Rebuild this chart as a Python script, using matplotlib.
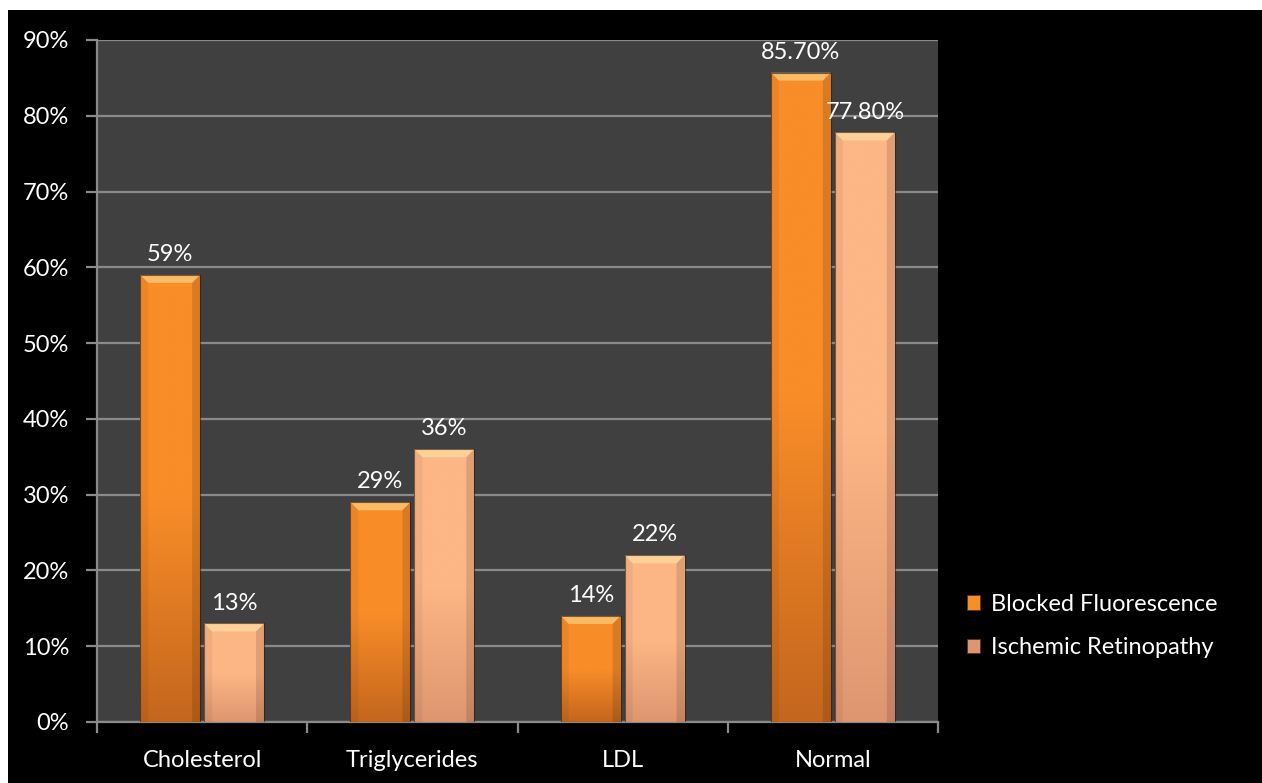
import numpy as np
import matplotlib.pyplot as plt
from matplotlib.patches import Rectangle, Polygon
from matplotlib.colors import LinearSegmentedColormap

plt.rcParams['font.family'] = ['Lato', 'DejaVu Sans']

categories = ['Cholesterol', 'Triglycerides', 'LDL', 'Normal']
blocked = [59, 29, 14, 85.7]
ischemic = [13, 36, 22, 77.8]
blocked_labels = ['59%', '29%', '14%', '85.70%']
ischemic_labels = ['13%', '36%', '22%', '77.80%']
series_names = ['Blocked Fluorescence', 'Ischemic Retinopathy']

# top / bottom colours for each series gradient
grad_blocked = ('#F98D28', '#C4661E')
grad_ischemic = ('#FDB685', '#DE9670')

FS = 17

fig = plt.figure(figsize=(12.62, 7.83), dpi=100, facecolor='white')
# black canvas with a thin white margin on the top and left
fig.patches.append(Rectangle((8 / 1262, 0), 1, 1 - 10 / 783, transform=fig.transFigure,
                             facecolor='black', edgecolor='none', zorder=-10))

ax = fig.add_axes([97 / 1262, 1 - 722 / 783, (938 - 97) / 1262, (722 - 40) / 783])
ax.set_facecolor('#404040')
ax.set_xlim(-0.5, 3.5)
ax.set_ylim(0, 90)

px_x = 4 / 841.0   # data units per pixel, x
px_y = 90 / 682.0  # data units per pixel, y

bar_w = 0.285
offset = 0.152


def bevel_bar(x0, h, colors):
    x1 = x0 + bar_w
    cmap = LinearSegmentedColormap.from_list('g', [colors[1], colors[0], colors[0]])
    grad = np.linspace(0, 1, 256).reshape(-1, 1)
    im = ax.imshow(grad, cmap=cmap, origin='lower', aspect='auto',
                   extent=(x0, x1, 0, h), zorder=3, interpolation='bicubic')
    clip = Rectangle((x0, 0), bar_w, h, transform=ax.transData, facecolor='none')
    im.set_clip_path(clip)
    bx = 8 * px_x
    by = 8 * px_y
    # top bevel (light)
    ax.add_patch(Polygon([(x0, h), (x1, h), (x1 - bx, h - by), (x0 + bx, h - by)],
                         closed=True, facecolor='#FFF3B0', alpha=0.45, edgecolor='none', zorder=4))
    # side bevels (dark)
    ax.add_patch(Polygon([(x0, 0), (x0, h), (x0 + bx, h - by), (x0 + bx, 0)],
                         closed=True, facecolor='black', alpha=0.05, edgecolor='none', zorder=4))
    ax.add_patch(Polygon([(x1, 0), (x1, h), (x1 - bx, h - by), (x1 - bx, 0)],
                         closed=True, facecolor='black', alpha=0.12, edgecolor='none', zorder=4))
    ax.add_patch(Rectangle((x0, 0), bar_w, h, facecolor='none', edgecolor='#2a1a10',
                           linewidth=0.8, alpha=0.6, zorder=5))


for i in range(len(categories)):
    xb = i - offset - bar_w / 2
    xi = i + offset - bar_w / 2
    bevel_bar(xb, blocked[i], grad_blocked)
    bevel_bar(xi, ischemic[i], grad_ischemic)
    ax.text(i - offset, blocked[i] + 1.3, blocked_labels[i], ha='center', va='bottom',
            color='white', fontsize=FS, zorder=6)
    ax.text(i + offset, ischemic[i] + 1.3, ischemic_labels[i], ha='center', va='bottom',
            color='white', fontsize=FS, zorder=6)

# gridlines and axes
ax.set_yticks(np.arange(0, 91, 10))
ax.set_yticklabels([f'{v}%' for v in range(0, 91, 10)])
ax.yaxis.grid(True, color='#8a8a8a', linewidth=1.6, zorder=1)
ax.set_axisbelow(True)
ax.set_xticks(np.arange(-0.5, 3.6, 1))
ax.set_xticklabels([])
ax.set_xticks(range(4), minor=True)
ax.set_xticklabels(categories, minor=True)
ax.tick_params(axis='x', which='minor', length=0, pad=20, labelsize=FS, labelcolor='white')
ax.tick_params(axis='x', which='major', length=8, width=1.6, color='#8a8a8a', direction='out')
ax.tick_params(axis='y', length=8, width=1.6, color='#8a8a8a', labelsize=FS,
               labelcolor='white', pad=12)
for side in ['top', 'right']:
    ax.spines[side].set_visible(False)
for side in ['left', 'bottom']:
    ax.spines[side].set_color('#8a8a8a')
    ax.spines[side].set_linewidth(1.6)

# legend
handles = [Rectangle((0, 0), 1, 1, facecolor=grad_blocked[0], edgecolor='#5a3010', linewidth=0.6),
           Rectangle((0, 0), 1, 1, facecolor=grad_ischemic[1], edgecolor='#5a3010', linewidth=0.6)]
leg = fig.legend(handles, series_names, loc='center left', bbox_to_anchor=(946 / 1262, 1 - 626 / 783),
                 frameon=False, fontsize=FS, labelcolor='white', handlelength=0.55, handleheight=0.55,
                 handletextpad=0.45, labelspacing=0.95)

fig.savefig('out.png', dpi=100, facecolor=fig.get_facecolor())
